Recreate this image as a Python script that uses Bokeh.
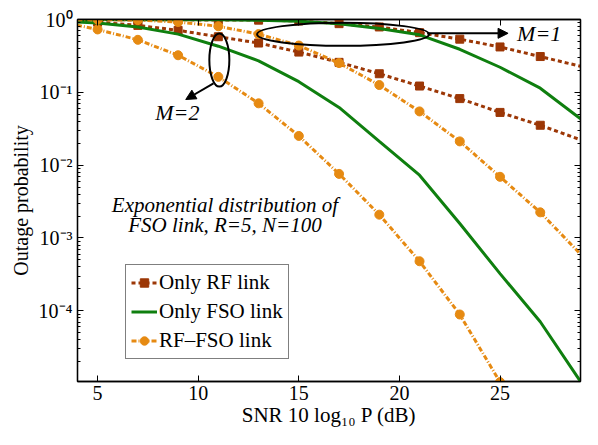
import math
from bokeh.plotting import figure
from bokeh.models import (Range1d, LinearAxis, LogAxis, FixedTicker, Legend, LegendItem,
                          CustomJSTickFormatter, Arrow, NormalHead, Label)
from bokeh.embed import file_html
from bokeh.resources import INLINE

# ---------------- data ----------------
snr_db = [3, 5, 7, 9, 11, 13, 15, 17, 19, 21, 23, 25, 27, 29]

rf_only_m1 = [0.995, 0.99, 0.99, 0.99, 0.985, 0.98, 0.955, 0.877, 0.79, 0.66, 0.537, 0.42, 0.31, 0.228]
rf_only_m2 = [0.98, 0.92, 0.83, 0.71, 0.58, 0.475, 0.357, 0.258, 0.18, 0.122, 0.082, 0.053, 0.0353, 0.0223]
fso_only_m1 = [0.997, 0.997, 0.996, 0.995, 0.99, 0.977, 0.944, 0.877, 0.75, 0.616, 0.39, 0.221, 0.114, 0.0433]
fso_only_m2 = [0.955, 0.893, 0.79, 0.63, 0.43, 0.271, 0.14, 0.062, 0.0212, 0.00728, 0.00158, 3.24e-4, 7.08e-5, 1.07e-5]
rf_fso_m1 = [0.997, 0.995, 0.98, 0.923, 0.807, 0.63, 0.439, 0.252, 0.126, 0.0547, 0.0212, 0.00692, 0.00225, 6.0e-4]
rf_fso_m2 = [0.948, 0.73, 0.526, 0.323, 0.163, 0.0706, 0.0252, 0.00759, 0.00209, 4.79e-4, 8.9e-5, 1.05e-5, float("nan"), float("nan")]

x_ticks = [5, 10, 15, 20, 25]
y_decades = [-5, -4, -3, -2, -1, 0]

legend_labels = ["Only RF link", "Only FSO link", "RF\u2013FSO link"]
note_lines = ["Exponential distribution of", "FSO link, R=5, N=100"]

# ---------------- styles ----------------
SERIF = "Liberation Serif"
C_RF = "#9C3706"
C_FSO = "#0F7F0F"
C_MIX = "#E68A12"

X_MIN, X_MAX = 4, 29
Y_MIN, Y_MAX = 1.07e-5, 1.0

p = figure(width=582, height=429, y_axis_type="log",
           x_range=Range1d(X_MIN, X_MAX), y_range=Range1d(Y_MIN, Y_MAX),
           output_backend="svg", toolbar_location=None,
           min_border_left=77, min_border_right=2, min_border_top=19, min_border_bottom=40)
p.background_fill_color = "white"
p.border_fill_color = "white"
p.outline_line_color = "black"
p.outline_line_width = 1.3
p.xgrid.visible = False
p.ygrid.visible = False

minor_y = [m * 10.0 ** d for d in y_decades[:-1] for m in range(2, 10)]
y_ticker = FixedTicker(ticks=[10.0 ** d for d in y_decades], minor_ticks=minor_y)
x_ticker = FixedTicker(ticks=x_ticks)

sup_code = """
const e = Math.round(Math.log10(tick));
const sup = {'-':'\u207b','0':'\u2070','1':'\u00b9','2':'\u00b2','3':'\u00b3','4':'\u2074','5':'\u2075','6':'\u2076','7':'\u2077','8':'\u2078','9':'\u2079'};
return '10' + String(e).split('').map(c => sup[c]).join('');
"""

def style_axis(ax):
    ax.axis_line_color = "black"
    ax.axis_line_width = 1.3
    ax.major_tick_in = 6
    ax.major_tick_out = 0
    ax.minor_tick_in = 3
    ax.minor_tick_out = 0
    ax.major_tick_line_color = "black"
    ax.minor_tick_line_color = "black"
    ax.major_label_text_font = SERIF
    ax.major_label_text_color = "black"
    ax.axis_label_text_font = SERIF
    ax.axis_label_text_font_style = "normal"
    ax.axis_label_text_color = "black"

# bottom x axis
xa = p.xaxis[0]
xa.ticker = x_ticker
style_axis(xa)
xa.minor_tick_line_color = None
xa.major_label_text_font_size = "20px"
xa.major_label_standoff = 4
xa.axis_label = "SNR 10 log\u2081\u2080 P (dB)"
xa.axis_label_text_font_size = "21px"
xa.axis_label_standoff = 0

# left y axis
ya = p.yaxis[0]
ya.ticker = y_ticker
style_axis(ya)
ya.formatter = CustomJSTickFormatter(code=sup_code)
ya.major_label_text_font_size = "20px"
ya.major_label_standoff = 5
ya.axis_label = "Outage probability"
ya.axis_label_text_font_size = "20px"
ya.axis_label_standoff = 4

# top & right axes: ticks only (box style)
top = LinearAxis(ticker=x_ticker, formatter=CustomJSTickFormatter(code="return '';"))
style_axis(top)
top.minor_tick_line_color = None
top.major_label_text_font_size = "0px"
top.major_label_standoff = 0
p.add_layout(top, "above")

right = LogAxis(ticker=y_ticker, formatter=CustomJSTickFormatter(code="return '';"))
style_axis(right)
right.major_label_text_font_size = "0px"
right.major_label_standoff = 0
p.add_layout(right, "right")

# ---------------- series ----------------
mk_x = [x for x in snr_db if X_MIN < x < X_MAX]

def mk(vals):
    return [v for x, v in zip(snr_db, vals) if X_MIN < x < X_MAX]

rf_lines, rf_marks = [], []
for vals in (rf_only_m1, rf_only_m2):
    rf_lines.append(p.line(snr_db, vals, line_color=C_RF, line_width=3, line_dash="4 3"))
    rf_marks.append(p.scatter(mk_x, mk(vals), marker="square", size=8, fill_color=C_RF, line_color=C_RF))

fso_lines = []
for vals in (fso_only_m1, fso_only_m2):
    fso_lines.append(p.line(snr_db, vals, line_color=C_FSO, line_width=3))

mix_lines, mix_marks = [], []
for vals in (rf_fso_m1, rf_fso_m2):
    mix_lines.append(p.line(snr_db, vals, line_color=C_MIX, line_width=3, line_dash="5 2 1 2"))
    mix_marks.append(p.scatter(mk_x, mk(vals), marker="circle", size=9, fill_color=C_MIX, line_color=C_MIX))

# ---------------- annotations ----------------
# M=1 ellipse + arrow + label
p.ellipse(x=[17.2], y=[0.627], width=[172], height=[23], width_units="screen", height_units="screen",
          fill_color=None, line_color="black", line_width=2)
p.add_layout(Arrow(end=NormalHead(size=10, fill_color="black", line_color="black"),
                   x_start=21.38, y_start=0.646, x_end=25.4, y_end=0.646,
                   line_color="black", line_width=2))
p.add_layout(Label(x=25.85, y=0.646, text="M=1", text_font=SERIF, text_font_style="italic",
                   text_font_size="22px", text_baseline="middle", text_align="left", text_color="black"))

# M=2 ellipse + arrow + label
p.ellipse(x=[11.05], y=[0.277], width=[20], height=[53], width_units="screen", height_units="screen",
          fill_color=None, line_color="black", line_width=2)
p.add_layout(Arrow(end=NormalHead(size=10, fill_color="black", line_color="black"),
                   x_start=10.76, y_start=0.133, x_end=9.38, y_end=0.0797,
                   line_color="black", line_width=2))
p.add_layout(Label(x=8.96, y=0.0531, text="M=2", text_font=SERIF, text_font_style="italic",
                   text_font_size="22px", text_baseline="middle", text_align="center", text_color="black"))

# description text
for txt, yv in zip(note_lines, [10 ** -2.55, 10 ** -2.82]):
    p.add_layout(Label(x=11.33, y=yv, text=txt, text_font=SERIF, text_font_style="italic",
                       text_font_size="21px", text_baseline="middle", text_align="center",
                       text_color="black"))

# ---------------- legend ----------------
legend = Legend(items=[
    LegendItem(label=legend_labels[0], renderers=[rf_lines[0], rf_marks[0]]),
    LegendItem(label=legend_labels[1], renderers=[fso_lines[0]]),
    LegendItem(label=legend_labels[2], renderers=[mix_lines[0], mix_marks[0]]),
], location=(48, 22))
legend.label_text_font = SERIF
legend.label_text_font_size = "21px"
legend.label_text_color = "black"
legend.border_line_color = "black"
legend.border_line_width = 1.3
legend.background_fill_color = "white"
legend.background_fill_alpha = 1.0
legend.glyph_width = 26
legend.glyph_height = 21
legend.label_height = 21
legend.label_standoff = 2
legend.spacing = 4
legend.padding = 5
legend.margin = 0
p.add_layout(legend)

open("out.html", "w").write(file_html(p, INLINE))
